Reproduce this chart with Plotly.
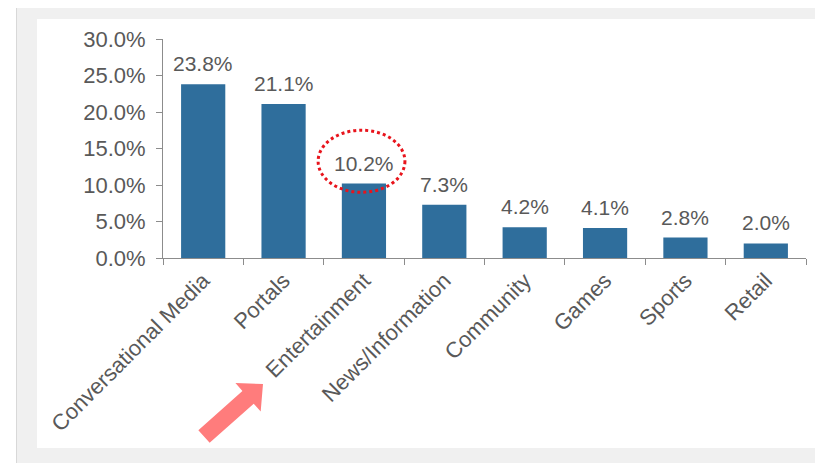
import plotly.graph_objects as go
import math

categories = ["Conversational Media", "Portals", "Entertainment", "News/Information",
              "Community", "Games", "Sports", "Retail"]
values = [23.8, 21.1, 10.2, 7.3, 4.2, 4.1, 2.8, 2.0]
y_ticks = [0, 5, 10, 15, 20, 25, 30]

# page body margin offsets the figure by 8px; work in reference pixel coords
OFF = 8
W, H = 823 - OFF, 463 - OFF
PL, PR, PT, PB = 163, 806, 39, 258          # plot area in reference pixels
L, T = PL - OFF, PT - OFF
R = W - (PR - OFF)
B = H - (PB - OFF)
PW, PH = PR - PL, PB - PT

def px2paper(px, py):
    return (px - PL) / PW, (PB - py) / PH

FONT = "Liberation Sans, Arial, sans-serif"
TXT = "#595959"
BAR = "#2f6e9c"

fig = go.Figure(go.Bar(
    x=categories, y=values,
    marker=dict(color=BAR, line=dict(width=0)),
    width=0.55,
    hovertemplate="%{x}: %{y:.1f}%<extra></extra>",
))

# value labels above bars
annotations = [
    dict(x=c, y=v, xref="x", yref="y", text=f"{v:.1f}%", showarrow=False,
         yanchor="bottom", yshift=7,
         font=dict(family=FONT, size=21, color=TXT))
    for c, v in zip(categories, values)
]

shapes = []
def rect(x0, y0, x1, y1, color, layer="below"):
    a = px2paper(x0, y0)
    b = px2paper(x1, y1)
    shapes.append(dict(type="rect", xref="paper", yref="paper",
                       x0=a[0], y0=a[1], x1=b[0], y1=b[1],
                       fillcolor=color, line=dict(width=0), layer=layer))

rect(16, 5, 830, 470, "#f0f0f0")
rect(16, 5, 17, 470, "#d8d8d8")
rect(37, 19, 830, 448, "#ffffff")

# dotted ellipse around Entertainment label
ei = categories.index("Entertainment")
shapes.append(dict(type="circle", xref="x", yref="y",
                   x0=ei - 0.57, x1=ei + 0.51, y0=9.0, y1=17.5,
                   line=dict(color="#e8141c", width=3, dash="dot"), layer="above"))

# pink arrow pointing at Entertainment label
tail = (204, 436.5)
tip = (263, 384)
ux, uy = tip[0] - tail[0], tip[1] - tail[1]
ln = math.hypot(ux, uy)
ux, uy = ux / ln, uy / ln
nx, ny = -uy, ux
hl, hw, sw = 20, 19, 8.5
bx, by = tip[0] - ux * hl, tip[1] - uy * hl
pts = [
    (tail[0] + nx * sw, tail[1] + ny * sw),
    (bx + nx * sw, by + ny * sw),
    (bx + nx * hw, by + ny * hw),
    tip,
    (bx - nx * hw, by - ny * hw),
    (bx - nx * sw, by - ny * sw),
    (tail[0] - nx * sw, tail[1] - ny * sw),
]
pp = [px2paper(*p) for p in pts]
path = "M " + " L ".join(f"{x:.5f},{y:.5f}" for x, y in pp) + " Z"
shapes.append(dict(type="path", xref="paper", yref="paper", path=path,
                   fillcolor="#ff7c7c", line=dict(width=0), layer="above"))

fig.update_layout(
    width=W, height=H,
    margin=dict(l=L, r=R, t=T, b=B, autoexpand=False),
    paper_bgcolor="#ffffff",
    plot_bgcolor="rgba(0,0,0,0)",
    showlegend=False,
    shapes=shapes,
    annotations=annotations,
    font=dict(family=FONT, size=22, color=TXT),
    xaxis=dict(
        tickangle=-45,
        ticks="outside", ticklen=6, tickcolor="#8c8c8c",
        tickson="boundaries",
        showline=True, linecolor="#8c8c8c", linewidth=1,
        showgrid=False, zeroline=False,
        tickfont=dict(family=FONT, size=22, color=TXT),
        fixedrange=True,
    ),
    yaxis=dict(
        range=[0, 30],
        tickvals=y_ticks,
        ticktext=[f"{v:.1f}%" for v in y_ticks],
        ticks="outside", ticklen=6, tickcolor="#8c8c8c",
        showline=True, linecolor="#8c8c8c", linewidth=1,
        showgrid=False, zeroline=False,
        ticklabelstandoff=6,
        tickfont=dict(family=FONT, size=22, color=TXT),
        fixedrange=True,
    ),
)

fig.write_html("out.html")
